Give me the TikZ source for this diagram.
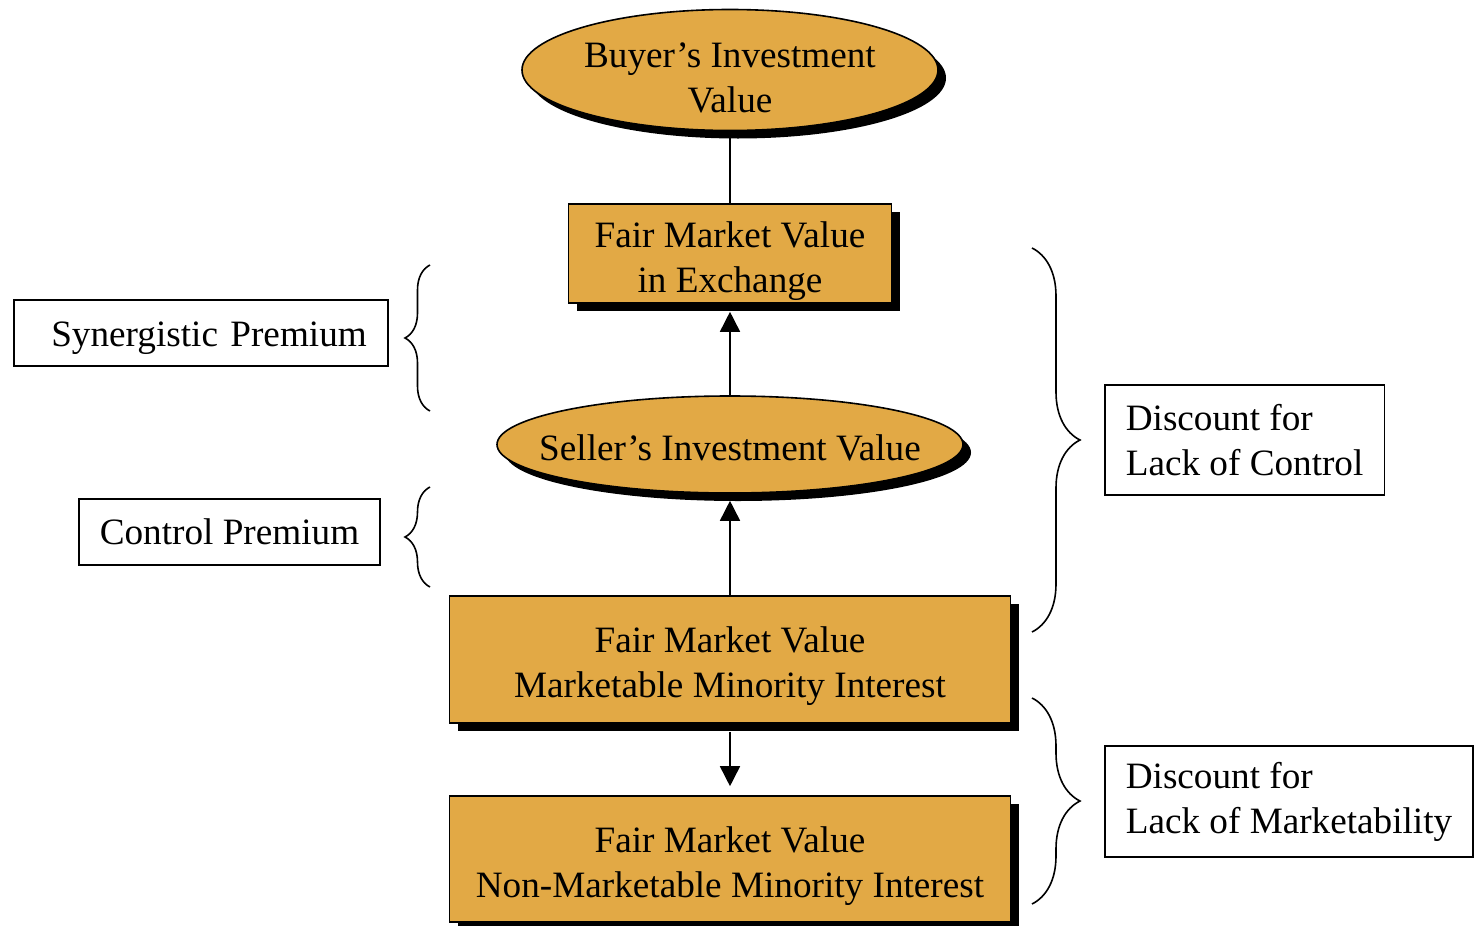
\documentclass[tikz,border=0pt]{standalone}
\usepackage{fontspec}
\setmainfont{Liberation Serif}
\usetikzlibrary{arrows.meta,shapes.geometric,shadows,decorations.pathreplacing}

\definecolor{gold}{RGB}{226,169,69}
% taller first line, drops the text block a little
\newcommand{\tallline}[1]{\rule{0pt}{#1}}

\tikzset{
  valbox/.style={draw, line width=0.8pt, fill=gold, align=center, inner sep=0pt,
    general shadow={fill=black, shadow xshift=4pt, shadow yshift=-4pt}},
  valoval/.style={valbox, ellipse},
  notebox/.style={draw, line width=0.8pt, align=left, inner xsep=10.5pt, inner ysep=0pt, minimum height=33pt},
  grp/.style={decorate, decoration={brace, amplitude=#1}, line width=0.8pt},
  lnk/.style={line width=0.8pt, -{Triangle[width=10pt,length=10pt]}}
}

\begin{document}
\begin{tikzpicture}[x=0.5pt,y=0.5pt,yscale=-1,xscale=1,font=\fontsize{18.6pt}{22.5pt}\selectfont]
%set diagram left start at 0, and has height of 926
\useasboundingbox (0,0) rectangle (1474,926);

%Shape: Ellipse [id:buyer]
\node[valoval, inner xsep=-3pt, minimum width=208pt, minimum height=60pt] (buyer) at (730,70) {\tallline{20pt}Buyer’s Investment\\Value};
%Shape: Rectangle [id:exch]
\node[valbox, minimum width=161.5pt, minimum height=49.5pt] (exch) at (730,253.5) {\tallline{21pt}Fair Market Value\\in Exchange};
%Shape: Ellipse [id:seller]
\node[valoval, inner xsep=-14pt, minimum width=233pt, minimum height=48.5pt] (seller) at (730,444.5) {\tallline{16pt}Seller’s Investment Value};
%Shape: Rectangle [id:mmi]
\node[valbox, minimum width=280.5pt, minimum height=63.5pt] (mmi) at (730,659.5) {\tallline{20pt}Fair Market Value\\Marketable Minority Interest};
%Shape: Rectangle [id:nmmi]
\node[valbox, minimum width=280.5pt, minimum height=63pt] (nmmi) at (730,859) {\tallline{20pt}Fair Market Value\\Non-Marketable Minority Interest};

%Straight Lines [id:buyer-exch]
\draw[line width=0.8pt] (buyer) -- (exch);
%Straight Lines [id:seller-exch]
\draw[lnk, shorten >=4pt] (seller) -- (exch);
%Straight Lines [id:mmi-seller]
\draw[lnk, shorten >=3.5pt] (mmi) -- (seller);
%Straight Lines [id:mmi-nmmi]
\draw[lnk, shorten <=4pt, shorten >=4.5pt] (mmi) -- (nmmi);

%Text Box [id:syn]
\node[notebox, anchor=west, text width=166pt, align=right] (syn) at (13,333) {\tallline{18pt}Synergistic Premium};
%Text Box [id:ctrl]
\node[notebox, anchor=west] (ctrl) at (78,532) {Control Premium};
%Text Box [id:dloc]
\node[notebox, anchor=west, minimum height=55pt] (dloc) at (1104,440) {Discount for\\Lack of Control};
%Text Box [id:dlom]
\node[notebox, anchor=west, minimum height=55.5pt] (dlom) at (1104,801.5) {Discount for\\Lack of Marketability};

%Shape: Brace [id:syn-brace]
\draw[grp=12.5pt] (430,411) -- (430,265);
%Shape: Brace [id:ctrl-brace]
\draw[grp=12.5pt] (430,587) -- (430,487);
%Shape: Brace [id:dloc-brace]
\draw[grp=24pt] (1032,248) -- (1032,632);
%Shape: Brace [id:dlom-brace]
\draw[grp=24pt] (1032,698) -- (1032,904);

\end{tikzpicture}
\end{document}
